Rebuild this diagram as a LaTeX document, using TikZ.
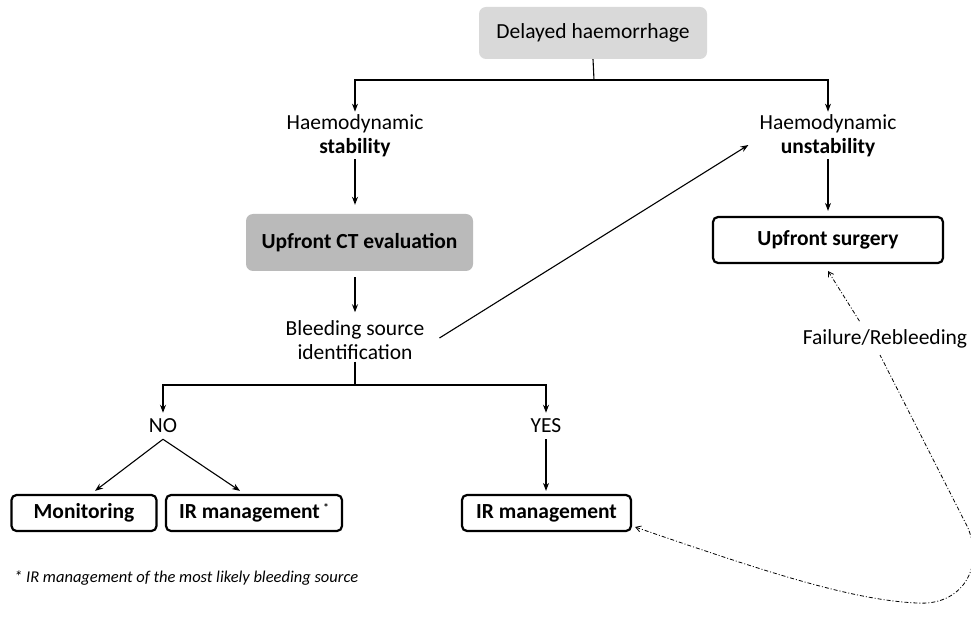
\documentclass[tikz,border=0pt]{standalone}
\usepackage{fontspec}
\setmainfont{Carlito}
\usetikzlibrary{arrows.meta}
\begin{document}
\begin{tikzpicture}[x=1pt,y=-1pt,
  every node/.style={font=\fontsize{21.5}{24}\selectfont, inner sep=0pt},
  conn/.style={line width=1.1pt,-{Stealth[length=8pt,width=6pt]}},
  plain/.style={line width=1.1pt},
  graybox/.style={rounded corners=7pt, fill=#1, draw=none},
  wbox/.style={rounded corners=5pt, draw=black, line width=2.2pt, fill=white},
  lbl/.style={align=center},
  bfn/.style={font=\fontsize{21.5}{24}\selectfont\bfseries},
  dd/.style={line width=0.8pt, dash pattern=on 4pt off 2pt on 1pt off 2pt, {Straight Barb[length=5pt,width=6pt]}-}
]
\useasboundingbox (0,0) rectangle (971,617);
% boxes
\node[graybox=black!15, minimum width=228pt, minimum height=52pt] (top) at (593,33) {Delayed haemorrhage};
\node[lbl] (stab) at (355,136) {Haemodynamic\\\textbf{stability}};
\node[lbl] (unstab) at (828,136) {Haemodynamic\\\textbf{unstability}};
\node[graybox=black!27, minimum width=227pt, minimum height=57pt, bfn] (ct) at (359.5,242.5) {Upfront CT evaluation};
\node[wbox, minimum width=230pt, minimum height=46pt, bfn] (surg) at (828,240) {Upfront surgery};
\node[lbl] (bleed) at (355,340) {Bleeding source\\identification};
\node (no) at (163,426) {NO};
\node (yes) at (546,426) {YES};
\node[wbox, minimum width=145pt, minimum height=36pt, bfn] (mon) at (84,513) {Monitoring};
\node[wbox, minimum width=176pt, minimum height=36pt, bfn] (ir1) at (254,513) {IR management\,\raisebox{7pt}{\fontsize{11}{11}\selectfont *}};
\node[wbox, minimum width=169pt, minimum height=36pt, bfn] (ir2) at (546.5,513) {IR management};
\node[font=\fontsize{16.5}{19}\selectfont\itshape, anchor=west] (foot) at (14,578) {* IR management of the most likely bleeding source};
\node (fr) at (885,339) {Failure/Rebleeding};
% connectors
\coordinate (j1) at (594,80);
\draw[plain] (top.south) -- (j1);
\draw[conn] (j1) -| ([yshift=3pt]stab.north);
\draw[conn] (j1) -| ([yshift=3pt]unstab.north);
\draw[conn] ([yshift=-2pt]stab.south) -- ([yshift=9pt]ct.north -| stab.south);
\draw[conn] ([yshift=-2pt]unstab.south) -- ([yshift=5pt]surg.north);
\draw[conn] ([yshift=-6pt]ct.south -| bleed.north) -- ([yshift=8pt]bleed.north);
\draw[conn] ([xshift=15pt,yshift=2pt]bleed.east) -- ([xshift=-11pt,yshift=-9pt]unstab.west);
\coordinate (j2) at (355,385);
\draw[plain] ([yshift=-2pt]bleed.south) -- (j2);
\draw[conn] (j2) -| ([yshift=6pt]no.north);
\draw[conn] (j2) -| ([yshift=6pt]yes.north);
\draw[conn] ([yshift=-6pt]no.south) -- ([xshift=11pt,yshift=3pt]mon.north);
\draw[conn] ([yshift=-6pt]no.south) -- ([xshift=-14pt,yshift=3pt]ir1.north);
\draw[conn] ([yshift=-6pt]yes.south) -- ([yshift=3pt]ir2.north -| yes.south);
% failure / rebleeding
\coordinate (s1) at (828,271);
\coordinate (s2) at (860,322);
\coordinate (s3) at (880,355);
\coordinate (c1) at (968,528);
\draw[dd] (s1) -- (s2);
\draw[dd] ([xshift=3pt,yshift=-14pt]ir2.east) .. controls (760,570) and (850,600) .. (917,603) .. controls (960,606) and (985,570) .. (c1) -- (s3);
\end{tikzpicture}
\end{document}
